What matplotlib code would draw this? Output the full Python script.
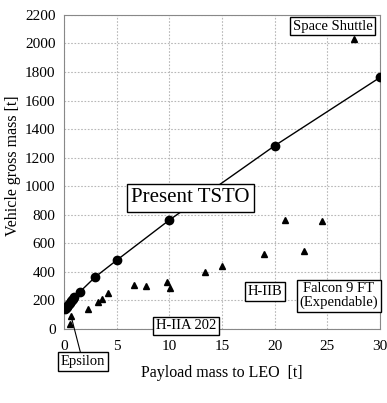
import matplotlib.pyplot as plt

plt.rcParams['font.family'] = ['Liberation Serif', 'DejaVu Serif']

# Present TSTO design points (payload [t], gross mass [t])
tsto_payload = [0.1, 0.2, 0.3, 0.4, 0.5, 0.6, 0.7, 0.8, 0.9, 1.0, 1.5, 3.0, 5.0, 10.0, 20.0, 30.0]
tsto_mass = [138, 147, 156, 165, 174, 183, 192, 201, 210, 220, 258, 365, 480, 762, 1283, 1762]

# Existing launch vehicles
veh_payload = [0.55, 0.7, 2.3, 3.2, 3.65, 4.2, 6.7, 7.8, 9.8, 10.1, 13.4, 15.0, 19.0, 21.0, 22.8, 24.5, 27.5]
veh_mass = [35, 92, 139, 186, 209, 250, 309, 303, 331, 288, 395, 442, 527, 764, 548, 753, 2028]

fig = plt.figure(figsize=(3.87, 4.03), dpi=100)
ax = fig.add_axes([0.165, 0.184, 0.817, 0.779])

ax.plot(tsto_payload, tsto_mass, color='black', lw=1.0, marker='o', ms=6, zorder=3)
ax.plot(veh_payload, veh_mass, ls='none', marker='^', color='black', ms=5, zorder=3)

ax.set_xlim(0, 30)
ax.set_ylim(0, 2200)
ax.set_xticks(range(0, 31, 5))
ax.set_yticks(range(0, 2201, 200))
ax.tick_params(length=0, labelsize=11)
ax.tick_params(axis='x', pad=8)
ax.tick_params(axis='y', pad=6)
ax.grid(True, ls=(0, (1.5, 1.5)), color='#b8b8b8', lw=0.8)
for s in ax.spines.values():
    s.set_color('#888888')

ax.set_xlabel('Payload mass to LEO  [t]', fontsize=11.5, labelpad=9)
ax.set_ylabel('Vehicle gross mass [t]', fontsize=11.5, labelpad=3)
ax.yaxis.set_label_coords(-0.135, 0.52)

box = dict(boxstyle='square,pad=0.2', fc='white', ec='black', lw=1.0)
ax.text(12.0, 918, 'Present TSTO', fontsize=15, ha='center', va='center', bbox=box, zorder=5)
ax.text(25.5, 2122, 'Space Shuttle', fontsize=10.5, ha='center', va='center', bbox=box, zorder=5)
ax.text(11.6, 20, 'H-IIA 202', fontsize=10.5, ha='center', va='center', bbox=box, zorder=5)
ax.text(19.1, 259, 'H-IIB', fontsize=10.5, ha='center', va='center', bbox=box, zorder=5)
ax.text(26.1, 231, 'Falcon 9 FT\n(Expendable)', fontsize=10.5, ha='center', va='center',
        linespacing=1.05, bbox=box, zorder=5)
ax.annotate('Epsilon', xy=(0.7, 85), xytext=(1.8, -230), fontsize=10.5, ha='center', va='center',
            bbox=box, annotation_clip=False,
            arrowprops=dict(arrowstyle='-', color='black', lw=0.8, shrinkA=0, shrinkB=2))

fig.savefig('out.png', dpi=100)
